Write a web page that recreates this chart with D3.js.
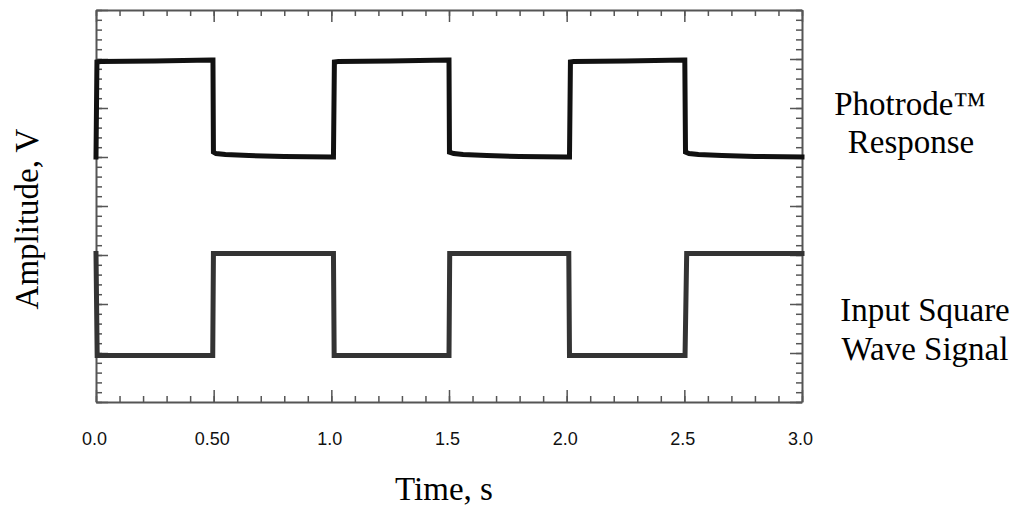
<!DOCTYPE html>
<html>
<head>
<meta charset="utf-8">
<script src="https://cdn.jsdelivr.net/npm/d3@7/dist/d3.min.js"></script>
<style>
	html, body { margin: 0; padding: 0; background: #fff; }
	svg { display: block; }
	.frame path.domain { stroke: #555; stroke-width: 2; }
	.frame .tick line { stroke: #555; stroke-width: 1.5; }
	.xlab text { font-family: "Liberation Sans", Arial, sans-serif; font-size: 18px; fill: #111; }
	.serif { font-family: "Liberation Serif", "Times New Roman", serif; font-size: 33px; fill: #000; }
</style>
</head>
<body>
<div class="js-wave-chart"></div>
<script>
// tick labels on the time axis (the original really prints "0.50")
var xTickValues = [0, 0.5, 1.0, 1.5, 2.0, 2.5, 3.0],
	xTickLabels = ["0.0", "0.50", "1.0", "1.5", "2.0", "2.5", "3.0"];

// Photrode response trace
var responseTime = [0, 0.004, 0.02, 0.25, 0.49, 0.497, 0.499, 0.51, 0.55, 0.65, 0.8, 1.0, 1.009,
	1.013, 1.03, 1.25, 1.497, 1.5, 1.502, 1.52, 1.56, 1.66, 1.8, 2.0, 2.012,
	2.016, 2.03, 2.25, 2.499, 2.502, 2.505, 2.52, 2.56, 2.66, 2.8, 3.0];
var responseAmp = [5.0, 6.94, 6.95, 6.96, 6.98, 6.98, 5.1, 5.07, 5.05, 5.03, 5.01, 5.0, 5.0,
	6.94, 6.95, 6.96, 6.98, 6.98, 5.1, 5.07, 5.05, 5.03, 5.01, 5.0, 5.0,
	6.94, 6.95, 6.96, 6.98, 6.98, 5.1, 5.07, 5.05, 5.03, 5.01, 5.0];

// input square wave trace
var inputTime = [0, 0.005, 0.496, 0.499, 1.009, 1.012, 1.5, 1.503, 2.009, 2.012, 2.503, 2.51, 3.0];
var inputAmp = [3.03, 0.95, 0.95, 3.03, 3.03, 0.95, 0.95, 3.03, 3.03, 0.95, 0.95, 3.03, 3.03];

var labelRight = [
	{ text: "Photrode\u2122", x: 910, y: 115 },
	{ text: "Response", x: 911, y: 153 },
	{ text: "Input Square", x: 925, y: 321 },
	{ text: "Wave Signal", x: 925, y: 360 }
];

waveChart('.js-wave-chart');

function waveChart(element) {
	var svg = d3.select(element).append('svg')
			.attr('width', 1018)
			.attr('height', 508),
		margin = { top: 10, right: 216, bottom: 106, left: 96 },
		width = +svg.attr('width') - margin.left - margin.right,
		height = +svg.attr('height') - margin.top - margin.bottom,
		g = svg.append('g').attr('transform', 'translate(' + margin.left + ',' + margin.top + ')');

	var x = d3.scaleLinear().domain([0, 3]).range([0, width]);
	var y = d3.scaleLinear().domain([0, 8]).range([height, 0]);

	var xMinor = d3.range(0, 31).map(function(i) { return i / 10; }),
		yMinor = d3.range(0, 41).map(function(i) { return i / 5; }),
		yMajor = d3.range(0, 9);

	// minor ticks, all pointing inward
	g.append('g').attr('class', 'frame').attr('transform', 'translate(0,' + height + ')')
		.call(d3.axisBottom(x).tickValues(xMinor).tickSizeInner(-6).tickSizeOuter(0).tickFormat(''));
	g.append('g').attr('class', 'frame')
		.call(d3.axisTop(x).tickValues(xMinor).tickSizeInner(-6).tickSizeOuter(0).tickFormat(''));
	g.append('g').attr('class', 'frame')
		.call(d3.axisLeft(y).tickValues(yMinor).tickSizeInner(-6).tickSizeOuter(0).tickFormat(''));
	g.append('g').attr('class', 'frame').attr('transform', 'translate(' + width + ',0)')
		.call(d3.axisRight(y).tickValues(yMinor).tickSizeInner(-6).tickSizeOuter(0).tickFormat(''));

	// major ticks
	g.append('g').attr('class', 'frame xlab').attr('transform', 'translate(0,' + height + ')')
		.call(d3.axisBottom(x).tickValues(xTickValues).tickSizeInner(-12).tickSizeOuter(0)
			.tickPadding(30).tickFormat(function(d, i) { return xTickLabels[i]; }))
		.call(function(a) { a.select('.domain').remove(); a.selectAll('text').attr('dx', -2); });
	g.append('g').attr('class', 'frame')
		.call(d3.axisTop(x).tickValues(xTickValues).tickSizeInner(-12).tickSizeOuter(0).tickFormat(''))
		.call(function(a) { a.select('.domain').remove(); });
	g.append('g').attr('class', 'frame')
		.call(d3.axisLeft(y).tickValues(yMajor).tickSizeInner(-12).tickSizeOuter(0).tickFormat(''))
		.call(function(a) { a.select('.domain').remove(); });
	g.append('g').attr('class', 'frame').attr('transform', 'translate(' + width + ',0)')
		.call(d3.axisRight(y).tickValues(yMajor).tickSizeInner(-12).tickSizeOuter(0).tickFormat(''))
		.call(function(a) { a.select('.domain').remove(); });

	var line = d3.line()
		.x(function(d) { return x(d[0]); })
		.y(function(d) { return y(d[1]); });

	g.append('path')
		.datum(d3.zip(inputTime, inputAmp))
		.attr('d', line)
		.attr('fill', 'none')
		.attr('stroke', '#333')
		.attr('stroke-width', 5)
		.attr('stroke-linecap', 'square')
		.attr('stroke-linejoin', 'miter');

	g.append('path')
		.datum(d3.zip(responseTime, responseAmp))
		.attr('d', line)
		.attr('fill', 'none')
		.attr('stroke', '#111')
		.attr('stroke-width', 5)
		.attr('stroke-linecap', 'square')
		.attr('stroke-linejoin', 'miter');

	// axis titles
	svg.append('text')
		.attr('class', 'serif')
		.attr('x', 444)
		.attr('y', 500)
		.attr('text-anchor', 'middle')
		.text('Time, s');

	svg.append('text')
		.attr('class', 'serif')
		.attr('transform', 'translate(38,219) rotate(-90)')
		.attr('text-anchor', 'middle')
		.text('Amplitude, V');

	svg.selectAll('.side-label')
		.data(labelRight)
		.enter().append('text')
		.attr('class', 'serif side-label')
		.attr('x', function(d) { return d.x; })
		.attr('y', function(d) { return d.y; })
		.attr('text-anchor', 'middle')
		.text(function(d) { return d.text; });
}
</script>
</body>
</html>
